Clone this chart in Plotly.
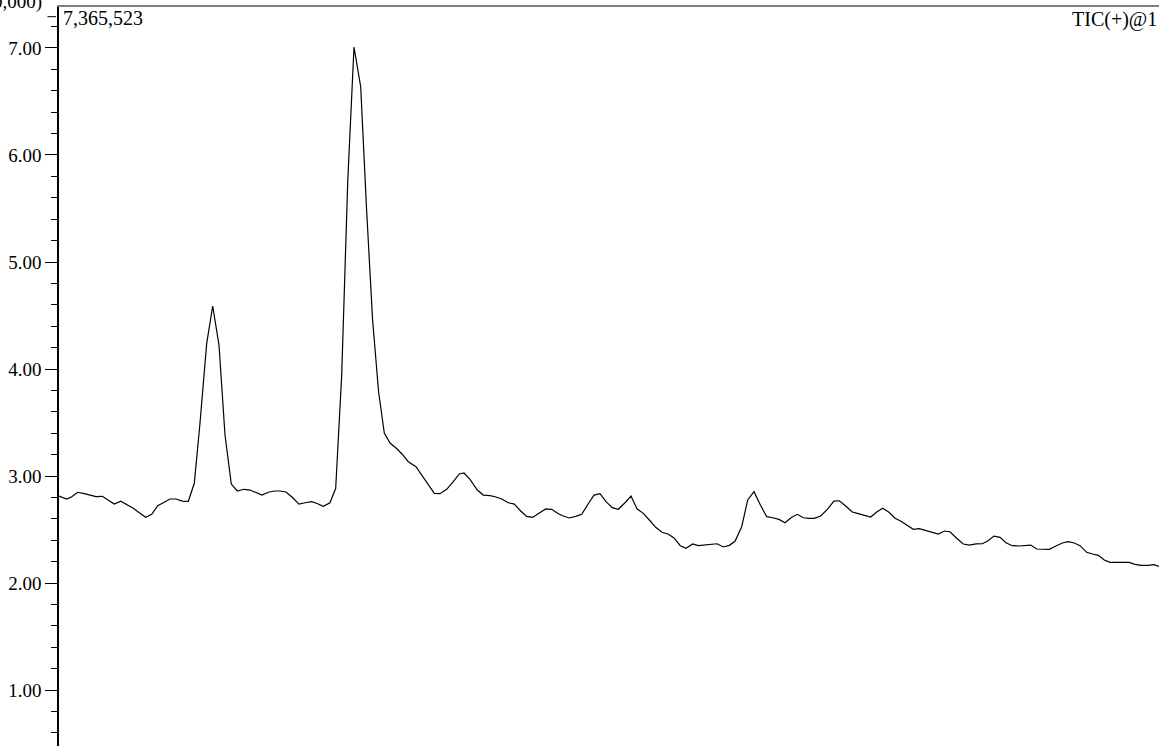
import plotly.graph_objects as go

# Retention time (min, arbitrary scale) and TIC intensity (x1,000,000)
retention_time = [
    0.000, 0.077, 0.127, 0.187, 0.253, 0.310, 0.370, 0.433, 0.493, 0.553,
    0.617, 0.677, 0.743, 0.803, 0.867, 0.927, 0.987, 1.043, 1.110, 1.170,
    1.233, 1.293, 1.353, 1.410, 1.477, 1.537, 1.600, 1.660, 1.723, 1.783,
    1.850, 1.910, 1.970, 2.030, 2.093, 2.153, 2.210, 2.270, 2.337, 2.400,
    2.460, 2.527, 2.587, 2.643, 2.710, 2.767, 2.827, 2.888, 2.950, 3.017,
    3.076, 3.136, 3.196, 3.253, 3.310, 3.370, 3.430, 3.493, 3.570,
    3.660, 3.753, 3.810, 3.877, 3.943, 4.003, 4.050, 4.110, 4.183, 4.243,
    4.310, 4.370, 4.427, 4.493, 4.553, 4.617, 4.677, 4.737, 4.803, 4.867,
    4.927, 4.993, 5.043, 5.103, 5.167, 5.227, 5.293, 5.350, 5.410, 5.470,
    5.533, 5.593, 5.660, 5.720, 5.780, 5.843, 5.910, 5.967, 6.030, 6.090,
    6.150, 6.213, 6.270, 6.337, 6.393, 6.460, 6.520, 6.580, 6.643, 6.703,
    6.760, 6.827, 6.887, 6.950, 7.010, 7.077, 7.137, 7.200, 7.260, 7.320,
    7.383, 7.443, 7.498, 7.553, 7.617, 7.683, 7.750, 7.803, 7.867, 7.933,
    7.993, 8.055, 8.117, 8.177, 8.237, 8.300, 8.360, 8.420, 8.483, 8.543,
    8.603, 8.670, 8.733, 8.793, 8.853, 8.910, 8.977, 9.043, 9.103, 9.170,
    9.233, 9.287, 9.350, 9.410, 9.470, 9.533, 9.600, 9.660, 9.717, 9.777,
    9.843, 9.903, 9.970, 10.033, 10.093, 10.153, 10.210, 10.277, 10.337, 10.393,
    10.453, 10.510, 10.577, 10.643, 10.700, 10.760, 10.820, 10.893, 10.950, 11.000,
]

intensity = [
    2.813, 2.785, 2.807, 2.848, 2.835, 2.820, 2.807, 2.810, 2.773, 2.738,
    2.764, 2.736, 2.698, 2.657, 2.614, 2.642, 2.722, 2.750, 2.785, 2.785,
    2.766, 2.764, 2.932, 3.495, 4.240, 4.589, 4.224, 3.383, 2.925, 2.860,
    2.876, 2.869, 2.848, 2.822, 2.848, 2.860, 2.860, 2.851, 2.797, 2.738,
    2.750, 2.760, 2.741, 2.717, 2.750, 2.885, 3.944, 5.766, 7.009, 6.638,
    5.486, 4.458, 3.785, 3.402, 3.308, 3.262, 3.206, 3.134, 3.087,
    2.963, 2.838, 2.835, 2.876, 2.947, 3.019, 3.028, 2.969, 2.869, 2.822,
    2.816, 2.804, 2.785, 2.750, 2.738, 2.673, 2.623, 2.614, 2.654, 2.692,
    2.689, 2.648, 2.626, 2.608, 2.623, 2.642, 2.741, 2.822, 2.835, 2.760,
    2.704, 2.689, 2.750, 2.813, 2.694, 2.651, 2.582, 2.521, 2.474, 2.458,
    2.421, 2.349, 2.324, 2.365, 2.349, 2.355, 2.365, 2.367, 2.337, 2.352,
    2.390, 2.526, 2.776, 2.853, 2.736, 2.620, 2.610, 2.595, 2.563, 2.610,
    2.642, 2.610, 2.605, 2.605, 2.626, 2.689, 2.766, 2.769, 2.720, 2.664,
    2.648, 2.633, 2.617, 2.664, 2.698, 2.661, 2.605, 2.577, 2.536, 2.502,
    2.508, 2.489, 2.470, 2.458, 2.486, 2.479, 2.418, 2.365, 2.355, 2.365,
    2.367, 2.392, 2.439, 2.427, 2.377, 2.349, 2.346, 2.352, 2.355, 2.318,
    2.318, 2.315, 2.346, 2.374, 2.386, 2.374, 2.349, 2.287, 2.271, 2.259,
    2.215, 2.193, 2.193, 2.193, 2.193, 2.175, 2.165, 2.165, 2.171, 2.156,
]

assert len(retention_time) == len(intensity)

y_scale_label = "(x1,000,000)"
max_label = "7,365,523"
trace_label = "TIC(+)@1"
y_range = [0.477, 7.383]
x_range = [0.0, 11.0]

FONT = "Liberation Serif, Times New Roman, serif"

fig = go.Figure()
fig.add_trace(go.Scatter(
    x=retention_time, y=intensity, mode="lines",
    line=dict(color="black", width=1.2),
    hoverinfo="skip", showlegend=False,
))

fig.update_layout(
    width=1159, height=746,
    margin=dict(l=59, r=0, t=7, b=0, pad=0, autoexpand=False),
    paper_bgcolor="white", plot_bgcolor="white",
    font=dict(family=FONT, size=19, color="black"),
    showlegend=False,
    xaxis=dict(
        range=x_range, side="top", showline=True, linecolor="#808080",
        linewidth=2, showticklabels=False, ticks="", showgrid=False,
        zeroline=False, automargin=False,
    ),
    yaxis=dict(
        range=y_range, tick0=0, dtick=1, tickformat=".2f",
        ticks="outside", ticklen=12, tickwidth=1, tickcolor="black",
        showline=True, linecolor="black", linewidth=1.5,
        showgrid=False, zeroline=False, automargin=False,
        tickfont=dict(family=FONT, size=19, color="black"),
        minor=dict(dtick=0.2, tick0=0, ticks="outside", ticklen=6,
                   tickwidth=1, tickcolor="black", showgrid=False),
    ),
)

fig.add_annotation(
    text=y_scale_label, xref="paper", yref="paper",
    x=-15 / 1100, y=1, xanchor="right", yanchor="bottom", yshift=-8,
    showarrow=False, font=dict(family=FONT, size=19, color="black"),
)
fig.add_annotation(
    text=max_label, xref="paper", yref="paper",
    x=2 / 1100, y=1, xanchor="left", yanchor="top", yshift=2,
    showarrow=False, font=dict(family=FONT, size=20, color="black"),
)
fig.add_annotation(
    text=trace_label, xref="paper", yref="paper",
    x=1, y=1, xanchor="right", yanchor="top", yshift=1,
    showarrow=False, font=dict(family=FONT, size=20, color="black"),
)
fig.add_shape(
    type="line", xref="paper", yref="paper",
    x0=-11.5 / 1100, x1=-3 / 1100, y0=1 - 9.7 / 739, y1=1 - 9.7 / 739,
    line=dict(color="black", width=1),
)

fig.write_html(
    "out.html",
    config={"displayModeBar": False},
    post_script="document.body.style.margin='0';document.body.style.padding='0';",
)
